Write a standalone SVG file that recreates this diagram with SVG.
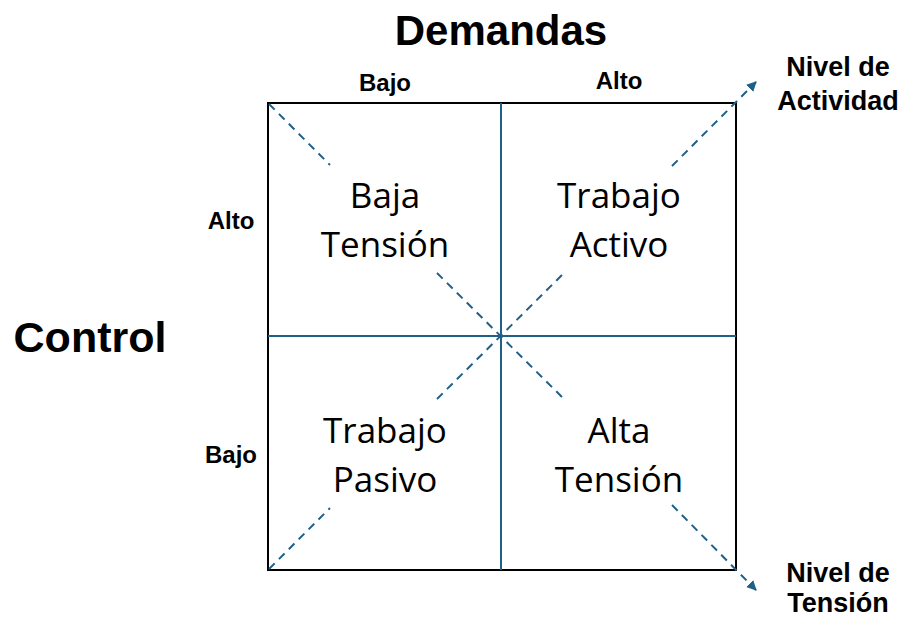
<svg xmlns="http://www.w3.org/2000/svg" width="904" height="618" viewBox="0 0 904 618">
<defs>
<style>
.b{font-family:"Liberation Sans",Arial,sans-serif;font-weight:bold;fill:#000;text-anchor:middle}
.q{font-family:"Open Sans","Liberation Sans",sans-serif;font-size:35px;fill:#000;text-anchor:middle}
.d{stroke:#1f6088;stroke-width:2;stroke-dasharray:8,6;fill:none}
.s{stroke:#1f6088;stroke-width:2;fill:none}
</style>
<marker id="ah" viewBox="0 0 10 10" refX="9" refY="5" markerWidth="5" markerHeight="5" orient="auto" markerUnits="strokeWidth">
<path d="M0,0 L10,5 L0,10 z" fill="#1f6088"/>
</marker>
</defs>
<rect width="904" height="618" fill="#fff"/>
<g id="grid">
<rect x="268" y="103" width="468" height="467" fill="none" stroke="#000" stroke-width="2"/>
<line class="s" x1="501" y1="103" x2="501" y2="570"/>
<line class="s" x1="268" y1="336" x2="736" y2="336"/>
</g>
<g id="connectors">
<line class="d" x1="269" y1="104" x2="330" y2="165"/>
<line class="d" x1="437" y1="273" x2="563" y2="398"/>
<line class="d" x1="437" y1="399" x2="562" y2="275"/>
<line class="d" x1="269" y1="569" x2="330" y2="508"/>
<line class="d" x1="672" y1="166" x2="756" y2="82" marker-end="url(#ah)"/>
<line class="d" x1="672" y1="505" x2="756" y2="590" marker-end="url(#ah)"/>
</g>
<g id="title-demandas"><text class="b" x="501" y="45" font-size="42">Demandas</text></g>
<g id="title-control"><text class="b" x="90" y="352" font-size="43">Control</text></g>
<g id="axis-labels">
<text class="b" x="385" y="91" font-size="24">Bajo</text>
<text class="b" x="619" y="89" font-size="24">Alto</text>
<text class="b" x="231" y="229" font-size="24">Alto</text>
<text class="b" x="231" y="463" font-size="24">Bajo</text>
</g>
<g id="q-baja-tension"><text class="q" x="385" y="208">Baja</text><text class="q" x="385" y="257">Tensión</text></g>
<g id="q-trabajo-activo"><text class="q" x="619" y="208">Trabajo</text><text class="q" x="619" y="257">Activo</text></g>
<g id="q-trabajo-pasivo"><text class="q" x="385" y="443">Trabajo</text><text class="q" x="385" y="492">Pasivo</text></g>
<g id="q-alta-tension"><text class="q" x="619" y="443">Alta</text><text class="q" x="619" y="492">Tensión</text></g>
<g id="nivel-actividad"><text class="b" x="838" y="76" font-size="27">Nivel de</text><text class="b" x="838" y="110" font-size="27">Actividad</text></g>
<g id="nivel-tension"><text class="b" x="838" y="582" font-size="27">Nivel de</text><text class="b" x="838" y="612" font-size="27">Tensión</text></g>
</svg>
